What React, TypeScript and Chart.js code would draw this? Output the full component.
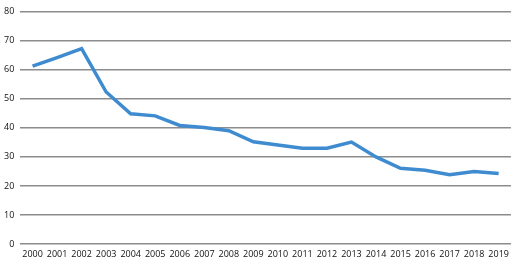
import React, { useEffect, useRef } from "react";
import { Chart, registerables } from "chart.js";

Chart.register(...registerables);

const years = ["2000","2001","2002","2003","2004","2005","2006","2007","2008","2009","2010","2011","2012","2013","2014","2015","2016","2017","2018","2019"];
const values = [61.2, 64.1, 67.2, 52.3, 44.8, 44.1, 40.8, 40.1, 39.0, 35.2, 34.1, 33.0, 33.0, 35.1, 30.0, 26.1, 25.4, 23.9, 25.0, 24.3];

export default function App() {
  const ref = useRef<HTMLCanvasElement>(null);
  useEffect(() => {
    if (!ref.current) return;
    const chart = new Chart(ref.current, {
      type: "line",
      data: {
        labels: years,
        datasets: [{
          data: values,
          borderColor: "#3f8bd0",
          borderWidth: 3.5,
          pointRadius: 0,
          tension: 0,
          fill: false,
        }],
      },
      options: {
        animation: false,
        responsive: false,
        maintainAspectRatio: false,
        layout: { padding: { top: 11, right: 2, left: -2, bottom: -4 } },
        plugins: { legend: { display: false }, tooltip: { enabled: false } },
        scales: {
          x: {
            offset: true,
            grid: { display: false, drawTicks: false },
            border: { display: false },
            ticks: { color: "#111", font: { family: "Open Sans", size: 9 }, maxRotation: 0, autoSkip: false, padding: 5 },
          },
          y: {
            min: 0, max: 80,
            grid: { color: "#8c8c8c", lineWidth: 1.5, drawTicks: false },
            border: { display: false },
            ticks: { stepSize: 10, color: "#111", font: { family: "Open Sans", size: 9 }, padding: 6 },
          },
        },
      },
    });
    return () => chart.destroy();
  }, []);
  return (
    <div style={{ position: "fixed", left: 0, top: 0, width: 514, height: 261, background: "#fff" }}>
      <canvas ref={ref} width={514} height={261} />
    </div>
  );
}
